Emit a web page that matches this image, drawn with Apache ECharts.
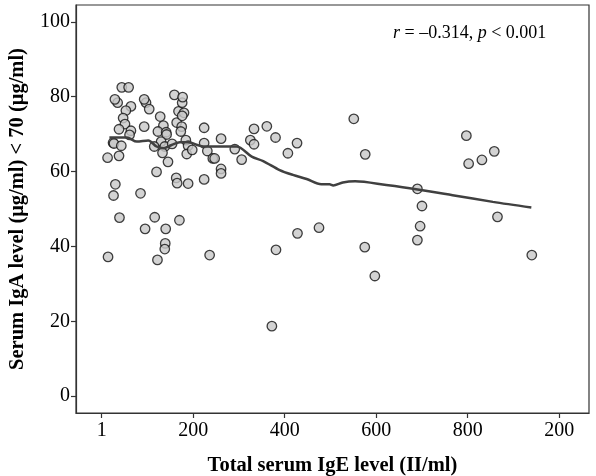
<!DOCTYPE html>
<html>
<head>
<meta charset="utf-8">
<script src="https://cdn.jsdelivr.net/npm/echarts@6/dist/echarts.min.js"></script>
<style>html,body{margin:0;padding:0;background:#fff}#c{width:596px;height:476px}</style>
</head>
<body>
<div id="c"></div>
<script>
// Scatter data: total serum IgE (x) vs serum IgA (y)
var igeValues = [35,64,53,97,104,47,51,64,38,61,25,27,43,13,38,30,26,39,14,93,128,135,123,141,142,130,115,138,133,154,145,120,85,116,95,140,139,138,122,170,163,165,189,164,175,173,168,180,176,176,184,189,186,198,224,224,231,243,247,224,261,261,261,236,291,306,325,333,333,361,380,407,427,381,428,475,44,59,159,177,29,93,551,576,797,802,831,858,690,700,696,690,865,940,575,597,372];
var igaValues = [78.4,77.4,76.3,78.4,76.7,74.3,72.7,70.9,71.3,69.8,67.7,67.5,66.9,63.7,64.2,56.6,53.6,47.7,37.2,72,74.7,72.3,70.7,70.5,69.9,68,66.7,66.7,65,67.4,62.6,59.9,54.2,47.8,44.7,44.7,40.8,39.3,36.4,47,58.3,56.9,56.8,73.1,72,70.7,76.1,75.7,74.9,78.4,68.4,66.9,64.7,65.8,71.7,67.6,65.5,63.5,63.5,57.9,68.8,60.7,59.5,37.7,66,63.2,68.4,71.4,67.3,72.1,69.1,64.9,67.6,39.1,43.5,45,82.5,82.5,80.5,79.9,79.3,79.3,74.1,64.6,69.6,62.1,63.1,65.4,55.4,50.8,45.4,41.7,47.9,37.7,39.8,32.1,18.7];
// Smoothed (loess) line
var loessX = [17,55,77,102,120,135,153,171,189,222,251,295,328,353,389,418,448,480,498,506,527,554,622,687,767,855,939];
var loessY = [69.1,69.1,68,68.3,66.7,66.2,67.1,67.8,67.8,66.7,66.7,66.7,64,62.8,60.4,59.1,58,56.6,56.6,56.3,57.1,57.4,56.4,55.3,53.7,51.9,50.4];
// Axis ticks
var xTicks = [0,200,400,600,800,1000];
var xTickLabels = ['1','200','400','600','800','200'];
var yTicks = [0,20,40,60,80,100];

var scatterData = igeValues.map(function(v,i){return [v, igaValues[i]];});
var lineData = loessX.map(function(v,i){return [v, loessY[i]];});

var font = 'Liberation Serif';
var chart = echarts.init(document.getElementById('c'), null, {renderer:'canvas'});
chart.setOption({
  animation:false,
  backgroundColor:'#fff',
  grid:{left:76, top:5, right:7, bottom:63, outerBoundsMode:'none', containLabel:false,
        show:true, borderColor:'#333', borderWidth:1.2, backgroundColor:'transparent'},
  xAxis:{
    type:'value', min:-56, max:1065,
    name:'Total serum IgE level (II/ml)', nameLocation:'middle', nameGap:42,
    nameTextStyle:{fontFamily:font, fontSize:20.5, fontWeight:'bold', color:'#000'},
    axisLine:{show:true, onZero:false, lineStyle:{color:'#333', width:1.2}},
    axisTick:{show:true, inside:false, length:5, lineStyle:{color:'#333', width:1.2}, customValues:xTicks},
    axisLabel:{fontFamily:font, fontSize:20, color:'#000', margin:8, customValues:xTicks,
      formatter:function(v){var i=xTicks.indexOf(v);return i>=0?xTickLabels[i]:'';}},
    splitLine:{show:false}
  },
  yAxis:{
    type:'value', min:-4.5, max:104.5,
    name:'Serum IgA level (μg/ml) < 70 (μg/ml)', nameLocation:'middle', nameGap:48, nameRotate:90,
    nameTextStyle:{fontFamily:font, fontSize:20.5, fontWeight:'bold', color:'#000'},
    axisLine:{show:true, onZero:false, lineStyle:{color:'#333', width:1.2}},
    axisTick:{show:true, inside:false, length:5, lineStyle:{color:'#333', width:1.2}, customValues:yTicks},
    axisLabel:{fontFamily:font, fontSize:20, color:'#000', margin:6, customValues:yTicks},
    splitLine:{show:false}
  },
  graphic:[{
    type:'text', left:393, top:24,
    style:{
      text:'{i|r} = –0.314, {i|p} < 0.001',
      font:'18px "Liberation Serif"', fill:'#000',
      rich:{i:{fontStyle:'italic', fontFamily:font, fontSize:18, fill:'#000'}}
    }
  }],
  series:[
    {type:'scatter', data:scatterData, symbol:'circle', symbolSize:9.5,
     itemStyle:{color:'#c8c8c8', borderColor:'#111', borderWidth:1.3}, z:2},
    {type:'line', data:lineData, showSymbol:false, smooth:0.3,
     lineStyle:{color:'#404040', width:2.5}, z:3}
  ]
});
</script>
</body>
</html>
